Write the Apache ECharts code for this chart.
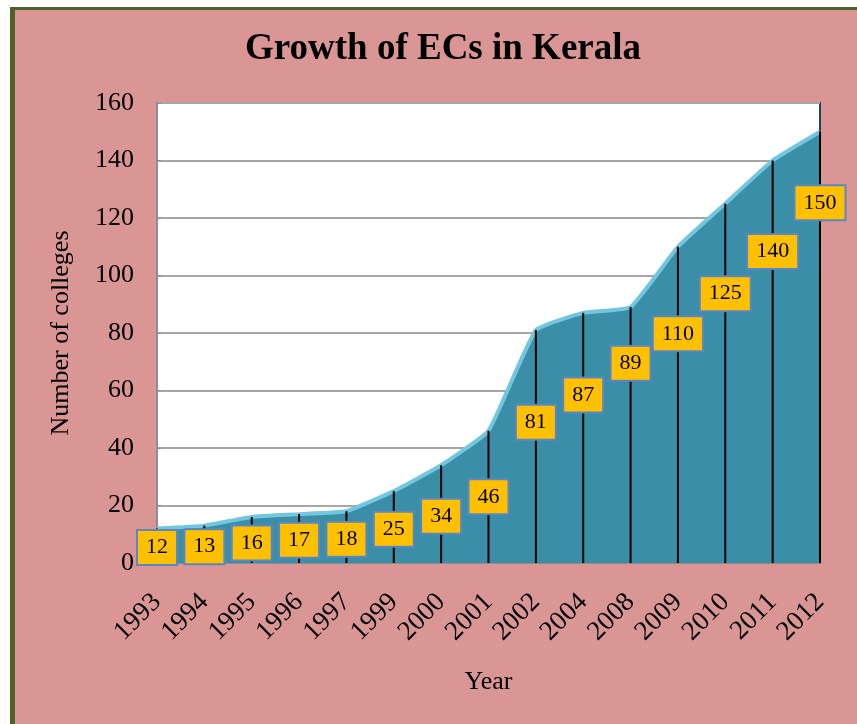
<!DOCTYPE html>
<html>
<head>
<meta charset="utf-8">
<script src="https://cdn.jsdelivr.net/npm/echarts@6/dist/echarts.min.js"></script>
<style>
  html, body { margin: 0; padding: 0; background: #ffffff; }
  #frame {
    position: absolute; left: 10px; top: 7px; right: 0; bottom: 0;
    background: #D99694;
    border-left: 5px solid #4F6228;
    border-top: 3px solid #4F6228;
  }
  #chart { position: absolute; left: 0; top: 0; width: 857px; height: 724px; }
</style>
</head>
<body>
<div id="frame"></div>
<div id="chart"></div>
<script>
// Engineering colleges in Kerala, by year
const years = ['1993', '1994', '1995', '1996', '1997', '1999', '2000', '2001',
               '2002', '2004', '2008', '2009', '2010', '2011', '2012'];
const colleges = [12, 13, 16, 17, 18, 25, 34, 46, 81, 87, 89, 110, 125, 140, 150];

// Vertical pixel shift of each value box below its point
const labelShift = [19, 21, 26, 26, 28, 38, 51, 66, 92, 82, 56, 87, 90, 91, 71];

const serif = "'Liberation Serif', 'DejaVu Serif', serif";
const chart = echarts.init(document.getElementById('chart'), null, { renderer: 'canvas' });

chart.setOption({
  backgroundColor: 'transparent',
  animation: false,
  title: {
    text: 'Growth of ECs in Kerala',
    left: 438, top: 26, textAlign: 'center',
    textStyle: { fontFamily: serif, fontWeight: 'bold', fontSize: 37, color: '#000' }
  },
  grid: {
    left: 157, right: 37, top: 103, bottom: 161,
    show: true, backgroundColor: '#ffffff',
    borderColor: '#243F60', borderWidth: 2
  },
  xAxis: {
    type: 'category',
    data: years,
    boundaryGap: false,
    name: 'Year', nameLocation: 'middle', nameGap: 106,
    nameTextStyle: { fontFamily: serif, fontSize: 26, color: '#000' },
    axisLine: { lineStyle: { color: '#8C8C8C', width: 2 } },
    axisTick: { show: false },
    axisLabel: { rotate: 45, fontFamily: serif, fontSize: 27, color: '#000', margin: 35, interval: 0 },
    splitLine: { show: false }
  },
  yAxis: {
    type: 'value',
    min: 0, max: 160, interval: 20,
    name: 'Number of colleges', nameLocation: 'middle', nameRotate: 90, nameGap: 83,
    nameTextStyle: { fontFamily: serif, fontSize: 26, color: '#000' },
    axisLine: { show: true, lineStyle: { color: '#8C8C9C', width: 2 } },
    axisTick: { show: true, inside: true, length: 4, lineStyle: { color: '#8C8C8C' } },
    axisLabel: { fontFamily: serif, fontSize: 26, color: '#000', margin: 23 },
    splitLine: { lineStyle: { color: '#A6A6A6', width: 2 } }
  },
  series: [
    {
      name: 'area',
      type: 'line',
      data: colleges,
      smooth: 0.12,
      showSymbol: false,
      z: 2,
      lineStyle: { color: '#72C6DE', width: 4 },
      areaStyle: { color: '#3A8EA8', opacity: 1 }
    },
    {
      name: 'drops',
      type: 'custom',
      z: 3,
      silent: true,
      data: colleges.map((v, i) => [i, v]),
      renderItem: function (params, api) {
        const top = api.coord([api.value(0), api.value(1)]);
        const bottom = api.coord([api.value(0), 0]);
        return {
          type: 'line',
          shape: { x1: top[0], y1: top[1], x2: bottom[0], y2: bottom[1] },
          style: { stroke: '#000', lineWidth: 2 }
        };
      }
    },
    {
      name: 'values',
      type: 'line',
      z: 5,
      silent: true,
      data: colleges.map((v, i) => ({
        value: v,
        label: { offset: [0, labelShift[i]] }
      })),
      symbol: 'circle',
      symbolSize: 1,
      itemStyle: { color: 'rgba(0,0,0,0)' },
      lineStyle: { width: 0, opacity: 0 },
      label: {
        show: true,
        position: 'inside',
        fontFamily: serif,
        fontSize: 22,
        color: '#000',
        backgroundColor: '#FFC000',
        borderColor: '#5B86C4',
        borderWidth: 2,
        padding: [6, 8, 5, 8]
      }
    }
  ]
});
</script>
</body>
</html>
